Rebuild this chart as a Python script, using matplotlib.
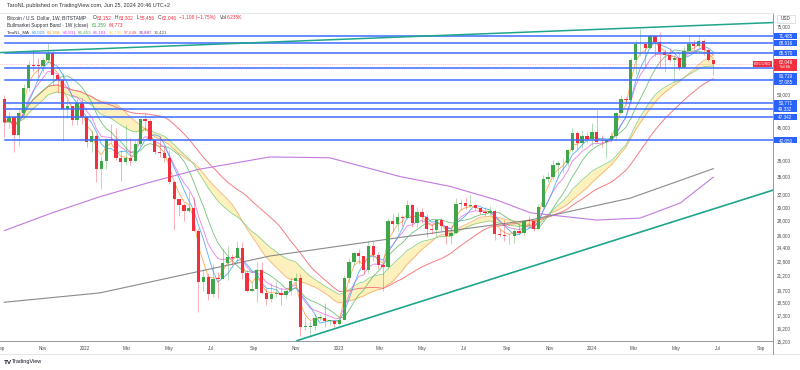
import matplotlib.pyplot as plt
from matplotlib.patches import Rectangle
from matplotlib.lines import Line2D
import numpy as np
import pandas as pd
from datetime import date

plt.rcParams['font.family'] = ['Liberation Sans', 'DejaVu Sans']

# ---- data (weekly BTCUSD, Bitstamp), first bar = week of 2021-09-06 ----
start = date(2021, 9, 6)
first_open = 51760
closes = [46060, 47260, 43160, 48200, 54960, 61530, 61310, 61300, 63300, 65500,
          58600, 57200, 49400, 50100, 46700, 50800, 47300, 41800, 43100, 36300,
          37900, 42400, 42200, 38400, 37700, 38400, 37800, 41300, 46800, 46400,
          42200, 39700, 39400, 38500, 34100, 31300, 30300, 29450, 29900, 26600,
          20550, 21000, 19300, 20850, 20800, 22600, 23300, 23200, 24400, 21500,
          19550, 19800, 21800, 19400, 18800, 19300, 19400, 19200, 19600, 20600,
          20900, 16300, 16300, 16400, 17100, 17100, 16800, 16800, 16550, 16950,
          20950, 22700, 23700, 23400, 21800, 24600, 23500, 22400, 22150, 28000,
          27500, 28500, 28300, 30300, 27600, 29250, 28450, 26800, 26750, 28100,
          27200, 25850, 26350, 30500, 30600, 30200, 30250, 29850, 29300, 29050,
          29400, 26100, 26000, 25850, 25850, 26550, 26250, 27950, 27900, 26850,
          29950, 34500, 35000, 37050, 37400, 37450, 39950, 43700, 41400, 42950,
          42250, 43950, 41700, 41600, 42050, 43000, 48300, 51800, 51700, 63100,
          68400, 68400, 67200, 71300, 69350, 65700, 64900, 63100, 63950, 60800,
          66300, 68500, 67800, 69650, 66600, 63152, 62046]
highs = [52920, 48840, 47340, 49230, 56100, 62950, 67000, 63700, 64300, 69000,
         66300, 59300, 59100, 51900, 49500, 52000, 52100, 47500, 44400, 43500,
         38900, 42600, 45800, 44700, 40100, 45400, 42600, 42300, 47000, 48200,
         47000, 41600, 42900, 40800, 40000, 34300, 31000, 30600, 32300, 31500,
         26900, 21900, 21500, 22500, 21600, 24200, 24600, 23600, 25200, 25100,
         21800, 20500, 22800, 22700, 19900, 20400, 20500, 19900, 19700, 21000,
         21500, 21400, 17200, 16800, 17400, 17400, 18400, 16900, 16900, 17000,
         21200, 23100, 23900, 24200, 23400, 25200, 25200, 23900, 22600, 28400,
         28900, 29200, 28800, 31000, 30500, 30000, 29800, 29000, 27500, 28200,
         28400, 27400, 26800, 31400, 31200, 31500, 31800, 30400, 29900, 30000,
         30200, 29700, 26800, 28100, 26100, 26900, 27500, 28100, 28600, 28000,
         30400, 35200, 35900, 38000, 37900, 38400, 40200, 44700, 44000, 44400,
         43800, 45900, 49000, 43200, 42200, 43800, 48600, 52900, 52500, 64000,
         69900, 73800, 68100, 71700, 71300, 72800, 66900, 67200, 64700, 65500,
         67700, 71900, 70000, 71900, 70200, 67200, 63302]
lows = [42830, 44750, 39600, 40800, 47100, 53900, 59500, 58000, 59400, 62300,
        55600, 53500, 42000, 47100, 45500, 45500, 45700, 40600, 39600, 34000,
        32900, 36300, 41700, 38000, 34300, 37200, 37200, 37600, 40900, 44200,
        41900, 39200, 38600, 37600, 33700, 26700, 28600, 28000, 29300, 26600,
        17600, 19600, 18700, 19000, 18900, 20800, 20700, 22400, 22600, 20800,
        19500, 19500, 18500, 19300, 18200, 18500, 19000, 18200, 18900, 19200,
        20100, 15600, 16100, 15500, 16100, 16900, 16300, 16500, 16300, 16500,
        17100, 20400, 22400, 22500, 21400, 21500, 22800, 21900, 19600, 21900,
        26600, 26500, 27300, 28200, 27100, 27100, 27700, 25800, 26100, 25900,
        26600, 24800, 24800, 26200, 29500, 29700, 30000, 29500, 29000, 28600,
        28800, 25400, 25800, 25300, 24900, 25000, 26000, 26000, 27200, 26500,
        26800, 29800, 34100, 34600, 34800, 35600, 37000, 39600, 40200, 40500,
        41500, 40800, 41500, 40600, 38500, 41800, 42300, 48300, 50600, 50900,
        59000, 64500, 60700, 66700, 64500, 60700, 59600, 62700, 56500, 60200,
        60800, 66600, 66600, 67600, 65000, 63000, 58456]
opens = [first_open] + closes[:-1]

# long moving averages (week index, price)
ma_purple_idx = [0, 10, 19.7, 30, 40, 54.7, 67, 81.5, 91.8, 101.5, 108.3, 122, 130.9, 139.2, 146]
ma_purple_val = [26600, 29150, 31600, 34000, 36300, 38660, 38500, 35000, 33300, 31050, 29130, 28070, 28350, 30600, 34887]
ma_gray_idx = [0, 19.7, 54.7, 81.5, 108.3, 128.9, 146]
ma_gray_val = [18500, 19400, 23390, 25700, 28070, 31370, 36421]

# horizontal levels and trend lines
levels = [71485, 68916, 65570, 60719, 57085, 50771, 49332, 47342, 42050]
trend_upper_idx = [-0.87, 158.3]
trend_upper_val = [65640, 76430]
trend_lower_idx = [60.3, 158.3]
trend_lower_val = [15230, 32670]

price_ticks = [15200, 16200, 17300, 18500, 19700, 21200, 22800, 24400, 26000,
               28000, 30000, 32000, 35000, 38000, 45000, 53000, 75000]
month_ticks = [date(2021, 9, 1), date(2021, 11, 1), date(2022, 1, 1), date(2022, 3, 1),
               date(2022, 5, 1), date(2022, 7, 1), date(2022, 9, 1), date(2022, 11, 1),
               date(2023, 1, 1), date(2023, 3, 1), date(2023, 5, 1), date(2023, 7, 1),
               date(2023, 9, 1), date(2023, 11, 1), date(2024, 1, 1), date(2024, 3, 1),
               date(2024, 5, 1), date(2024, 7, 1), date(2024, 9, 1)]
month_labels = ['Sep', 'Nov', '2022', 'Mar', 'May', 'Jul', 'Sep', 'Nov', '2023', 'Mar',
                'May', 'Jul', 'Sep', 'Nov', '2024', 'Mar', 'May', 'Jul', 'Sep']

# legend values
ohlc_labels = ['O', 'H', 'L', 'C']
ohlc_values = ['63,152', '63,302', '58,456', '62,046']
band_values = ['61,359', '64,773']
taro_values = ['66,029', '63,368', '66,831', '66,453', '66,181', '66,196', '57,648', '34,887', '36,421']

# ---- indicators from closes ----
s = pd.Series(closes, dtype=float)
ma_orange = s.ewm(span=3, adjust=False).mean()
ma_blue = s.rolling(5, min_periods=1).mean()
ma_magenta = s.ewm(span=7, adjust=False).mean()
ma_green = s.rolling(10, min_periods=1).mean()
band_sma = s.rolling(20, min_periods=1).mean()
band_ema = s.ewm(span=21, adjust=False).mean()
ma_salmon = s.rolling(30, min_periods=1).mean()

W, H = 800, 370
fig = plt.figure(figsize=(8, 3.7), dpi=100)
ax = fig.add_axes([0, 29 / H, 773 / W, 328 / H])

x = np.arange(len(closes))
o = np.array(opens, float)
c = np.array(closes, float)
up = c >= o
GREEN, RED = '#3fa64a', '#f0303f'
cols = np.where(up, GREEN, RED)

# band + MAs
ax.fill_between(x, band_sma, band_ema, color='#fff1bd', lw=0, zorder=1)
ax.plot(x, band_sma, color='#f5a25d', lw=0.6, alpha=0.8, zorder=2)
ax.plot(x, band_ema, color='#7fcf7f', lw=0.6, alpha=0.9, zorder=2)
ax.plot(x, ma_salmon, color='#f77c80', lw=0.7, zorder=2)
ax.plot(x, ma_green, color='#66bb6a', lw=0.6, alpha=0.9, zorder=2)
ax.plot(x, ma_magenta, color='#e55fe0', lw=0.6, alpha=0.8, zorder=2)
ax.plot(x, ma_blue, color='#42a5f5', lw=0.6, alpha=0.9, zorder=2)
ax.plot(x, ma_orange, color='#ffa040', lw=0.6, alpha=0.9, zorder=2)
ax.plot(ma_purple_idx, ma_purple_val, color='#c27ae0', lw=0.8, zorder=2)
ax.plot(ma_gray_idx, ma_gray_val, color='#8a8a8a', lw=0.8, zorder=2)

# candles
ax.vlines(x, lows, highs, colors=cols, lw=0.6, alpha=0.45, zorder=3)
body_lo = np.minimum(o, c)
body_h = np.maximum(np.abs(c - o), o * 0.004)
ax.bar(x, body_h, bottom=body_lo, width=0.68, color=cols, lw=0, zorder=3)

# drawings
for lv in levels:
    ax.axhline(lv, xmin=0.006, color='#3d6bff', lw=1.1, zorder=4)
ax.plot(trend_upper_idx, trend_upper_val, color='#1fa58c', lw=1.1, zorder=4)
ax.plot(trend_lower_idx, trend_lower_val, color='#1fa58c', lw=1.2, zorder=4)
ax.axhline(closes[-1], color=RED, lw=0.5, ls=(0, (1, 1.5)), alpha=0.5, zorder=4)

ax.set_yscale('log')
ax.set_xlim(-0.87, 158.3)
ax.set_ylim(15237, 80230)
ax.minorticks_off()
ax.yaxis.tick_right()
ax.set_yticks(price_ticks)
ax.set_yticklabels([f'{v:,}' for v in price_ticks])
ax.tick_params(axis='y', length=0, pad=3, labelsize=3.3, colors='#4a4a4a')
ax.set_xticks([(d - start).days / 7 for d in month_ticks])
ax.set_xticklabels(month_labels)
ax.tick_params(axis='x', length=0, pad=3.5, labelsize=3.3, colors='#4a4a4a')
ax.spines['left'].set_visible(False)
ax.spines['top'].set_color('#e0e3eb')
ax.spines['top'].set_linewidth(0.6)
for side in ['bottom', 'right']:
    ax.spines[side].set_color('#9598a1')
    ax.spines[side].set_linewidth(0.7)


def fy(px):
    return 1 - px / H


def ypx(v):
    return H - ax.transData.transform((0, v))[1]


def label_box(x0, yc, w, h, color, text, fs=3.3, dy=0):
    fig.add_artist(Rectangle((x0 / W, fy(yc + h / 2 + dy)), w / W, h / H,
                             transform=fig.transFigure, fc=color, ec='none', zorder=10))
    fig.text((x0 + w / 2) / W, fy(yc + dy), text, ha='center', va='center',
             fontsize=fs, color='white', zorder=11)


renderer = fig.canvas.get_renderer()


def seq_text(x0, y, parts, fs=3.3):
    # place text pieces one after the other, measuring each
    xp = x0
    for txt, col, gap in parts:
        t = fig.text(xp / W, fy(y), txt, fontsize=fs, color=col, va='center')
        xp += t.get_window_extent(renderer).width + gap


# price-axis labels for levels (TradingView shifts overlapping ones)
shift = {60719: 8, 57085: 2}
for lv in levels:
    label_box(774, ypx(lv), 23, 6.2, '#2962ff', f'{lv:,}', dy=shift.get(lv, 0))
yc = ypx(closes[-1])
fig.add_artist(Rectangle((774 / W, fy(yc + 7.5)), 23 / W, 12.5 / H, transform=fig.transFigure,
                         fc=RED, ec='none', zorder=10))
fig.text(785.5 / W, fy(yc - 1.5), f'{closes[-1]:,}', ha='center', va='center', fontsize=3.3,
         color='white', zorder=11)
fig.text(785.5 / W, fy(yc + 3.8), '5d 6h', ha='center', va='center', fontsize=3.1,
         color='white', zorder=11)
label_box(753, yc, 19, 6.2, RED, 'BTCUSD', fs=3.0)
fig.text(785.5 / W, fy(19), 'USD', ha='center', va='center', fontsize=3.3, color='#333')
fig.add_artist(Rectangle((777 / W, fy(23)), 18 / W, 8 / H, transform=fig.transFigure,
                         fc='none', ec='#d1d4dc', lw=0.5))

# axis frame lines below the plot
fig.add_artist(Line2D([0, 1], [fy(354), fy(354)], color='#e0e3eb', lw=0.6))
fig.add_artist(Line2D([773 / W, 773 / W], [fy(341), fy(354)], color='#9598a1', lw=0.7))

# header and legend
DARK = '#2a2e39'
fig.text(7 / W, fy(6), 'TaroNL published on TradingView.com, Jun 25, 2024 20:46 UTC+2',
         fontsize=4.0, color='#333', va='center')

line1 = [('Bitcoin / U.S. Dollar, 1W, BITSTAMP', DARK, 7)]
for lab, val in zip(ohlc_labels, ohlc_values):
    line1 += [(lab, DARK, 0.2), (val, RED, 3)]
line1 += [('\u22121,108 (\u22121.75%)', RED, 4), ('Vol', DARK, 0.2), ('6.235K', RED, 0)]
seq_text(7, 17.7, line1, fs=3.5)

line2 = [('Bullmarket Support Band \u00b7 1W (close)', DARK, 3),
         (band_values[0], '#3fa64a', 3), (band_values[1], RED, 0)]
seq_text(7, 25, line2, fs=3.4)

taro_colors = ['#2196f3', '#ff9800', '#e040fb', '#4caf50', '#e040fb', '#fdd835',
               '#f7525f', '#9c27b0', '#555555']
line3 = [('TaroNL_MA', DARK, 2)] + [(v, cl, 1.8) for v, cl in zip(taro_values, taro_colors)]
seq_text(7, 32.7, line3, fs=3.2)

# TradingView logo
fig.text(4 / W, fy(362), 'TV', fontsize=4.6, weight='bold', color='#131722', va='center')
fig.text(12 / W, fy(362), 'TradingView', fontsize=4.0, color='#131722', va='center')

fig.savefig('out.png', dpi=100)
